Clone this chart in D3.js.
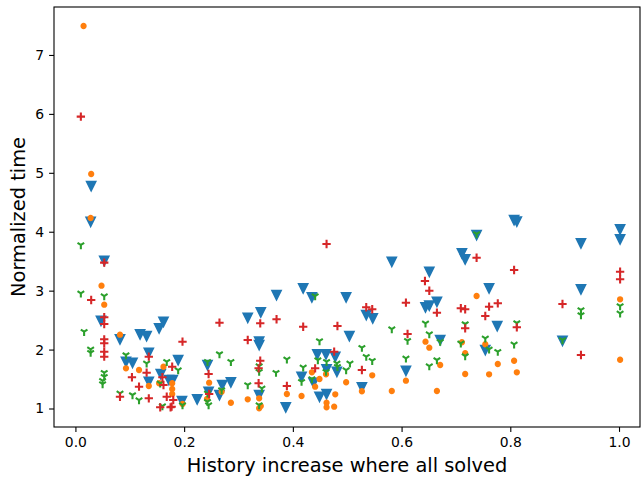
<!DOCTYPE html>
<html>
<head>
<meta charset="utf-8">
<script src="https://cdn.jsdelivr.net/npm/d3@7"></script>
<style>
    body { margin: 0; background: #fff; }
    text { font-family: "DejaVu Sans", sans-serif; fill: #000; }
    .axis path, .axis line { stroke: #000; stroke-width: 1.1px; }
    .axis text { font-size: 13.9px; }
</style>
</head>
<body>
<script>
// series values (x = history increase, y = normalized time)
var downX = [0.029,0.028,0.053,0.047,0.082,0.119,0.131,0.154,0.162,0.135,0.093,0.105,0.157,0.172,0.179,0.135,0.189,0.243,0.370,0.317,0.341,0.338,0.338,0.270,0.286,0.245,0.265,0.196,0.224,0.338,0.387,0.582,0.419,0.435,0.498,0.535,0.547,0.504,0.445,0.461,0.478,0.462,0.481,0.416,0.438,0.527,0.449,0.462,0.738,0.711,0.717,0.651,0.761,0.665,0.644,0.651,0.671,0.776,0.754,0.608,0.807,0.812,1.002,1.002,0.930,0.930,0.896];
var downY = [4.776,4.170,3.508,2.490,2.174,2.259,2.230,2.361,2.473,1.947,1.794,1.777,1.586,1.484,1.484,1.455,1.823,1.738,2.926,2.541,2.633,2.137,2.078,1.399,1.445,1.285,1.229,1.127,1.156,1.229,1.020,3.491,3.040,2.887,2.887,2.587,2.531,2.230,1.920,1.920,1.879,1.665,1.625,1.540,1.438,1.360,1.200,1.246,3.945,3.634,3.532,3.322,3.040,2.813,2.718,2.748,2.163,2.400,1.993,1.642,4.199,4.174,4.041,3.872,3.804,3.023,2.151];

var dotX = [0.015,0.029,0.028,0.048,0.053,0.082,0.093,0.117,0.135,0.162,0.154,0.178,0.178,0.178,0.246,0.242,0.286,0.317,0.338,0.341,0.338,0.389,0.269,0.197,0.435,0.449,0.441,0.416,0.461,0.478,0.462,0.462,0.476,0.498,0.527,0.546,0.582,0.738,0.644,0.651,0.671,0.608,0.665,0.711,0.717,0.717,0.754,0.761,0.777,0.807,0.812,1.002,1.002];
var dotY = [7.492,4.980,4.233,3.084,2.762,2.253,1.682,1.653,1.382,1.709,1.428,1.428,1.331,1.246,1.438,1.161,1.098,1.156,1.173,1.042,1.003,1.246,1.285,1.076,1.614,1.501,1.370,1.212,1.580,1.241,1.098,1.020,1.031,1.445,1.292,1.563,1.297,2.909,2.134,2.032,1.738,1.472,1.297,2.124,1.937,1.586,2.090,1.580,1.755,1.811,1.614,1.828,2.853];

var triX = [0.010,0.010,0.053,0.016,0.028,0.028,0.053,0.053,0.050,0.050,0.093,0.131,0.168,0.156,0.105,0.117,0.082,0.160,0.189,0.265,0.286,0.243,0.317,0.338,0.343,0.369,0.389,0.243,0.245,0.269,0.197,0.338,0.338,0.243,0.441,0.582,0.449,0.527,0.535,0.546,0.505,0.419,0.446,0.462,0.481,0.482,0.461,0.498,0.435,0.416,0.738,0.644,0.651,0.611,0.608,0.651,0.665,0.671,0.717,0.709,0.717,0.754,0.761,0.777,0.930,0.930,1.002,1.002,0.807,0.896,0.812];
var triY = [3.775,2.955,2.909,2.303,2.005,1.947,1.608,1.540,1.472,1.416,1.908,1.767,1.794,1.428,1.229,1.144,1.258,1.042,1.653,1.925,1.794,1.794,1.399,1.721,1.343,1.608,1.835,1.258,1.059,1.314,1.059,1.059,1.625,1.115,2.909,2.349,2.146,2.032,1.879,1.811,1.767,1.699,1.823,1.794,1.767,1.709,1.625,1.653,1.501,1.455,3.962,2.446,2.264,2.151,1.852,1.721,1.823,2.134,2.434,2.107,1.891,2.191,2.005,1.964,2.672,2.587,2.740,2.616,2.090,2.163,2.451];

var plusX = [0.010,0.053,0.029,0.053,0.053,0.053,0.053,0.053,0.053,0.082,0.104,0.117,0.135,0.135,0.131,0.156,0.162,0.160,0.168,0.175,0.178,0.197,0.265,0.180,0.177,0.245,0.246,0.317,0.340,0.370,0.340,0.337,0.337,0.389,0.462,0.535,0.546,0.419,0.482,0.476,0.441,0.527,0.738,0.643,0.651,0.608,0.665,0.709,0.717,0.761,0.777,0.754,0.611,0.717,0.807,1.002,1.002,0.896,0.812,0.930];
var plusY = [5.953,3.475,2.841,2.548,2.434,2.174,2.107,1.964,1.879,1.200,1.530,1.370,1.173,1.879,1.608,1.020,1.399,1.530,1.200,1.020,1.709,2.134,2.456,1.144,1.031,1.586,1.246,2.163,2.446,2.514,1.811,1.682,1.428,1.382,3.792,2.718,2.684,2.388,2.400,1.964,1.682,1.653,3.559,3.164,2.999,2.796,2.626,2.701,2.684,2.728,2.785,2.570,2.264,2.361,3.351,3.322,3.193,2.774,2.378,1.908];

// tick labels
var xTicks = [0, 0.2, 0.4, 0.6, 0.8, 1.0];
var yTicks = [1, 2, 3, 4, 5, 6, 7];

(function() {
    var width = 644, height = 478;
    var margin = { left: 54, top: 7, right: 4, bottom: 51 };
    var w = width - margin.left - margin.right;
    var h = height - margin.top - margin.bottom;
    var ms = 8.33; // marker size, px

    var svg = d3.select("body").append("svg")
        .attr("width", width)
        .attr("height", height);

    var x = d3.scaleLinear().domain([-0.0394, 1.0386]).range([0, w]);
    var y = d3.scaleLinear().domain([0.686, 7.814]).range([h, 0]);

    var g = svg.append("g")
        .attr("transform", "translate(" + margin.left + "," + margin.top + ")");

    // axes
    g.append("g")
        .attr("class", "axis")
        .attr("transform", "translate(0," + h + ")")
        .call(d3.axisBottom(x).tickValues(xTicks).tickFormat(d3.format(".1f"))
            .tickSizeInner(4.9).tickSizeOuter(0).tickPadding(4.9));
    g.append("g")
        .attr("class", "axis")
        .call(d3.axisLeft(y).tickValues(yTicks).tickFormat(d3.format("d"))
            .tickSizeInner(4.9).tickSizeOuter(0).tickPadding(4.9));
    g.selectAll(".axis .domain").remove();

    // marker shapes, like matplotlib's v . 1 +
    var r = ms / 2;
    var shapes = {
        down: "M0," + r + "L" + (-r) + "," + (-r) + "L" + r + "," + (-r) + "Z",
        dot: d3.symbol().type(d3.symbolCircle).size(Math.PI * (r / 2) * (r / 2))(),
        tri: "M0,0L0," + r + "M0,0L" + (0.8 * r) + "," + (-0.5 * r) + "M0,0L" + (-0.8 * r) + "," + (-0.5 * r),
        plus: "M" + (-r) + ",0L" + r + ",0M0," + (-r) + "L0," + r
    };

    var series = [
        { xs: downX, ys: downY, shape: "down", color: "#1f77b4", fill: true },
        { xs: dotX, ys: dotY, shape: "dot", color: "#ff7f0e", fill: true },
        { xs: triX, ys: triY, shape: "tri", color: "#2ca02c", fill: false },
        { xs: plusX, ys: plusY, shape: "plus", color: "#d62728", fill: false }
    ];

    var plot = g.append("g");
    series.forEach(function(s) {
        var pts = s.xs.map(function(v, i) { return [v, s.ys[i]]; });
        plot.append("g").selectAll("path")
            .data(pts)
            .enter()
                .append("path")
                .attr("d", shapes[s.shape])
                .attr("transform", function(d) {
                    return "translate(" + x(d[0]) + "," + y(d[1]) + ")";
                })
                .attr("fill", s.fill ? s.color : "none")
                .attr("stroke", s.color)
                .attr("stroke-width", 2.08)
                .attr("stroke-linecap", "butt");
    });

    // frame
    g.append("rect")
        .attr("width", w)
        .attr("height", h)
        .attr("fill", "none")
        .attr("stroke", "#000")
        .attr("stroke-width", 1.1);

    // labels
    svg.append("text")
        .attr("x", margin.left + w / 2)
        .attr("y", 472)
        .attr("text-anchor", "middle")
        .style("font-size", "19.4px")
        .text("History increase where all solved");
    svg.append("text")
        .attr("transform", "translate(25," + (margin.top + h / 2) + ") rotate(-90)")
        .attr("text-anchor", "middle")
        .style("font-size", "19.4px")
        .text("Normalized time");
})();
</script>
</body>
</html>
